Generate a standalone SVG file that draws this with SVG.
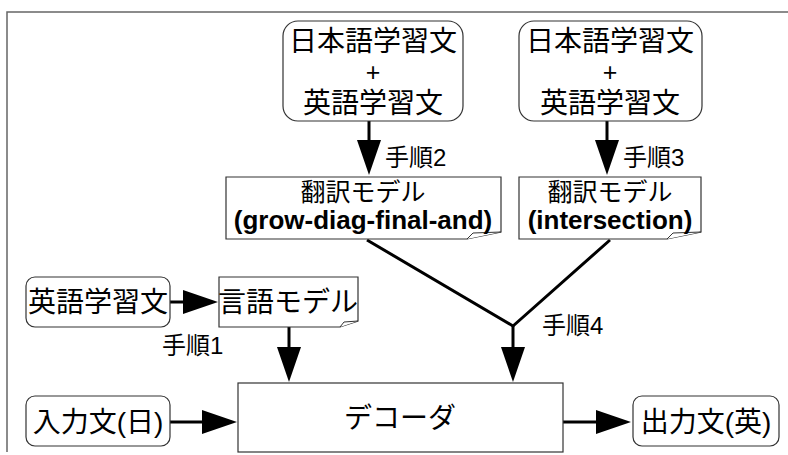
<svg xmlns="http://www.w3.org/2000/svg" width="788" height="455" viewBox="0 0 788 455">
<style>
.box{fill:#fff;stroke:#333;stroke-width:1.2}
.t{font-family:"Liberation Sans","Noto Sans CJK JP",sans-serif;fill:#000;text-anchor:middle}
.big{font-size:28px}
.mid{font-size:25px}
.bold{font-size:26px;font-weight:bold}
.lbl{font-size:24px;text-anchor:start}
.conn{stroke:#000;stroke-width:3;fill:none}
.fold{fill:#fff;stroke:#333;stroke-width:1}
</style>
<defs>
<marker id="ah" markerUnits="userSpaceOnUse" markerWidth="36" markerHeight="24" viewBox="0 0 36 24" refX="2" refY="12" orient="auto">
<path d="M0,0 L35,12 L0,24 z" fill="#000"/>
</marker>
</defs>
<rect width="788" height="455" fill="#fff"/>
<path d="M7,452 V12 H788" fill="none" stroke="#666" stroke-width="1.5"/>

<g id="connectors">
<line class="conn" x1="369" y1="121" x2="369" y2="142" marker-end="url(#ah)"/>
<line class="conn" x1="607" y1="121" x2="607" y2="142" marker-end="url(#ah)"/>
<line class="conn" x1="170" y1="302" x2="185" y2="302" marker-end="url(#ah)"/>
<line class="conn" x1="289" y1="327" x2="289" y2="349" marker-end="url(#ah)"/>
<polyline class="conn" points="367,240 513,326 610,240"/>
<line class="conn" x1="513" y1="325" x2="513" y2="349" marker-end="url(#ah)"/>
<line class="conn" x1="170" y1="422" x2="204" y2="422" marker-end="url(#ah)"/>
<line class="conn" x1="563" y1="422" x2="598" y2="422" marker-end="url(#ah)"/>
<text class="t lbl" x="385" y="166">手順2</text>
<text class="t lbl" x="623" y="166">手順3</text>
<text class="t lbl" x="162" y="354">手順1</text>
<text class="t lbl" x="542" y="334">手順4</text>
</g>

<g id="corpus1">
<rect class="box" x="283" y="21" width="180" height="100" rx="15"/>
<text class="t big" x="373" y="51">日本語学習文</text>
<text class="t mid" x="373" y="81">+</text>
<text class="t big" x="373" y="113">英語学習文</text>
</g>

<g id="corpus2">
<rect class="box" x="519" y="21" width="183" height="100" rx="15"/>
<text class="t big" x="610" y="51">日本語学習文</text>
<text class="t mid" x="610" y="81">+</text>
<text class="t big" x="610" y="113">英語学習文</text>
</g>

<g id="tm1">
<path class="box" d="M226,177 H501 V232 L467,239 H226 Z"/>
<path class="fold" d="M467,239 L473,233 L501,232"/>
<text class="t mid" x="363" y="201">翻訳モデル</text>
<text class="t bold" x="363" y="229">(grow-diag-final-and)</text>
</g>

<g id="tm2">
<path class="box" d="M519,177 H701 V232 L667,239 H519 Z"/>
<path class="fold" d="M667,239 L673,233 L701,232"/>
<text class="t mid" x="610" y="201">翻訳モデル</text>
<text class="t bold" x="610" y="229">(intersection)</text>
</g>

<g id="encorpus">
<rect class="box" x="26" y="277" width="144" height="50" rx="9"/>
<text class="t big" x="98" y="312">英語学習文</text>
</g>

<g id="lm">
<path class="box" d="M219,277 H358 V321 L340,327 H219 Z"/>
<path class="fold" d="M340,327 L344,322 L358,321"/>
<text class="t big" x="288" y="312">言語モデル</text>
</g>

<g id="input">
<rect class="box" x="26" y="396" width="144" height="50" rx="9"/>
<text class="t big" x="98" y="432">入力文(日)</text>
</g>

<g id="decoder">
<rect class="box" x="238" y="383" width="325" height="69"/>
<text class="t big" x="400" y="428">デコーダ</text>
</g>

<g id="output">
<rect class="box" x="633" y="396" width="146" height="50" rx="9"/>
<text class="t big" x="706" y="432">出力文(英)</text>
</g>
</svg>
